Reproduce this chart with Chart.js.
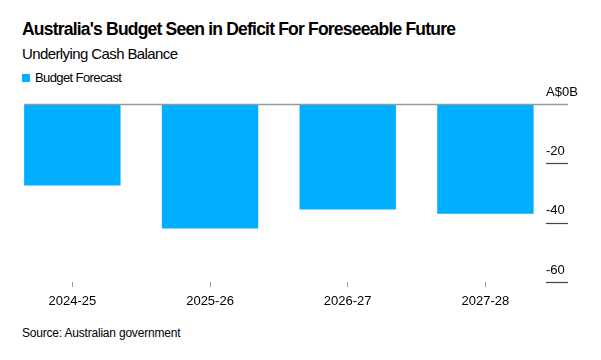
<!DOCTYPE html>
<html lang="en">
<head>
<meta charset="UTF-8">
<title>Australia's Budget Seen in Deficit For Foreseeable Future</title>
<script src="https://cdn.jsdelivr.net/npm/chart.js"></script>
<style>
body { margin:0; width:601px; height:360px; position:relative; overflow:hidden; background:#fff; color:#000; font-family:"Liberation Sans", Arial, sans-serif; }
.txt { position:absolute; left:22px; line-height:1; white-space:nowrap; }
#titulo { top:21px; font-size:17.5px; font-weight:bold; letter-spacing:-0.8px; }
#subtitulo { top:46px; font-size:15px; letter-spacing:-0.6px; }
#leyenda { top:71px; font-size:13px; letter-spacing:-0.6px; }
#leyenda span { display:inline-block; width:8px; height:8px; background:#00aeff; margin-right:5px; }
#fuente { top:327px; font-size:12px; letter-spacing:-0.2px; }
#caja { position:absolute; left:0; top:80px; width:601px; height:230px; }
</style>
</head>
<body>
<div class="txt" id="titulo">Australia's Budget Seen in Deficit For Foreseeable Future</div>
<div class="txt" id="subtitulo">Underlying Cash Balance</div>
<div class="txt" id="leyenda"><span></span>Budget Forecast</div>
<div id="caja"><canvas id="barra"></canvas></div>
<div class="txt" id="fuente">Source: Australian government</div>
<script>
const categorias = ['2024-25', '2025-26', '2026-27', '2027-28'];
const pronostico = [-27.5, -42.0, -35.6, -37.0];
const marcas = [0, -20, -40, -60];
const etiquetasY = ['A$0B', '-20', '-40', '-60'];

Chart.defaults.font.family = '"Liberation Sans", Arial, sans-serif';

// linea del cero y rayitas bajo las etiquetas del eje y
const lineasY = {
    id: 'lineasY',
    afterDatasetsDraw(chart) {
        const ctx = chart.ctx;
        const area = chart.chartArea;
        const y = chart.scales.y;
        const primera = chart.getDatasetMeta(0).data[0];
        ctx.save();
        for (const v of marcas) {
            const py = Math.round(y.getPixelForValue(v)) + 0.5;
            ctx.beginPath();
            if (v === 0) {
                ctx.strokeStyle = '#999999';
                ctx.lineWidth = 1.5;
                ctx.moveTo(primera.x - primera.width / 2, py);
            } else {
                ctx.strokeStyle = '#444444';
                ctx.lineWidth = 1.2;
                ctx.moveTo(area.right, py);
            }
            ctx.lineTo(area.right + 22, py);
            ctx.stroke();
        }
        ctx.restore();
    }
};

new Chart(document.getElementById('barra'), {
    type: 'bar',
    data: {
        datasets: [{
            label: 'Budget Forecast',
            data: pronostico.map((v, i) => ({ x: i, y: v })),
            backgroundColor: '#00aeff',
            borderWidth: 0,
            barPercentage: 0.7,
            categoryPercentage: 1
        }]
    },
    options: {
        responsive: true,
        maintainAspectRatio: false,
        animation: false,
        layout: { padding: { left: 3.5, top: 24, right: 0, bottom: 0 } },
        plugins: {
            legend: { display: false },
            tooltip: { enabled: false }
        },
        scales: {
            x: {
                type: 'linear',
                min: -0.5,
                max: 3.44,
                offset: false,
                afterBuildTicks: s => { s.ticks = categorias.map((c, i) => ({ value: i })); },
                grid: { offset: false, drawOnChartArea: false, drawTicks: true, tickLength: 5, color: '#999999', lineWidth: 1 },
                border: { display: false },
                ticks: { color: '#000', font: { size: 13 }, padding: 7, maxRotation: 0, callback: v => categorias[v] },
                afterFit: s => { s.height = 28; }
            },
            y: {
                position: 'right',
                min: -60,
                max: 0,
                afterBuildTicks: s => { s.ticks = marcas.map(v => ({ value: v })); },
                grid: { display: false, drawTicks: false },
                border: { display: false },
                ticks: {
                    color: '#000',
                    font: { size: 13 },
                    padding: 0,
                    labelOffset: -12,
                    crossAlign: 'near',
                    callback: v => etiquetasY[marcas.indexOf(v)]
                },
                afterFit: s => { s.width = 55; }
            }
        }
    },
    plugins: [lineasY]
});
</script>
</body>
</html>
